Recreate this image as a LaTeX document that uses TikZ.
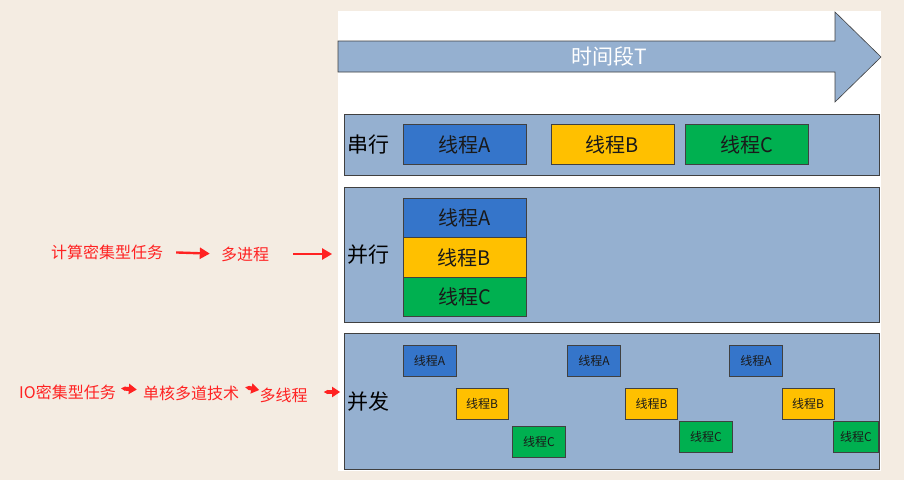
\documentclass[tikz,border=0pt]{standalone}
\usepackage{fontspec}
\setmainfont{Noto Sans CJK SC}
\usetikzlibrary{arrows.meta}
\definecolor{bgc}{HTML}{F4ECE2}
\definecolor{panelfill}{HTML}{95B0D0}
\definecolor{panelborder}{HTML}{404040}
\definecolor{blueA}{HTML}{3575CA}
\definecolor{yellowB}{HTML}{FFC000}
\definecolor{greenC}{HTML}{00B050}
\definecolor{txt}{HTML}{1A1A1A}
\definecolor{redc}{HTML}{FF2222}
\begin{document}
\begin{tikzpicture}[x=1pt,y=-1pt,
  panel/.style={draw=panelborder,fill=panelfill,line width=0.8pt,inner sep=0,minimum width=535pt},
  blk/.style={draw=panelborder,line width=0.8pt,inner sep=0,text=txt,font=\fontsize{20}{20}\selectfont,minimum width=123pt},
  sblk/.style={draw=panelborder,line width=0.8pt,inner sep=0,text=txt,font=\fontsize{12}{12}\selectfont,minimum width=53pt,minimum height=31pt},
  plabel/.style={anchor=west,inner sep=0,text=black,font=\fontsize{21}{21}\selectfont},
  rtext/.style={inner sep=0,text=redc,font=\fontsize{16}{16}\selectfont},
  rarrA/.style={draw=redc,line width=2.4pt,-{Triangle[length=10pt,width=11pt]}},
  rarrB/.style={draw=redc,line width=4pt,{Triangle[length=4pt,width=4pt]}-{Triangle[length=8pt,width=10pt]}},
]
\useasboundingbox (0,0) rectangle (904,480);
\fill[bgc] (0,0) rectangle (904,480);
\fill[white] (338,11) rectangle (881,471);

% time arrow
\draw[draw=panelborder,fill=panelfill,line width=0.6pt]
  (338,41) -- (835,41) -- (835,12) -- (881,57) -- (835,102) -- (835,72) -- (338,72) -- cycle;
\node[inner sep=0,text=white,font=\fontsize{21}{21}\selectfont] (title) at (609,56) {时间段T};

% panels
\node[panel,minimum height=60.5pt] (p1) at (612,144.75) {};
\node[panel,minimum height=135pt] (p2) at (612,255) {};
\node[panel,minimum height=136pt] (p3) at (612,401.5) {};

\node[plabel] (l1) at (347,144.5) {串行};
\node[plabel] (l2) at (347,255) {并行};
\node[plabel] (l3) at (347,402) {并发};

% serial
\node[blk,fill=blueA,minimum height=40pt] (sA) at (465,144.5) {线程A};
\node[blk,fill=yellowB,minimum height=40pt] (sB) at (612.5,144.5) {线程B};
\node[blk,fill=greenC,minimum height=40pt] (sC) at (746.5,144.5) {线程C};

% parallel
\node[blk,fill=blueA,minimum height=40pt] (pA) at (464.5,218) {线程A};
\node[blk,fill=yellowB,minimum height=39.5pt] (pB) at (464.5,257.5) {线程B};
\node[blk,fill=greenC,minimum height=39.5pt] (pC) at (464.5,296.75) {线程C};

% concurrent
\node[sblk,fill=blueA] (cA1) at (429.5,361) {线程A};
\node[sblk,fill=blueA] (cA2) at (594,361) {线程A};
\node[sblk,fill=blueA] (cA3) at (756,361) {线程A};
\node[sblk,fill=yellowB,minimum width=52pt] (cB1) at (482,404) {线程B};
\node[sblk,fill=yellowB,minimum width=52pt] (cB2) at (651.5,404) {线程B};
\node[sblk,fill=yellowB,minimum width=52pt] (cB3) at (808,404) {线程B};
\node[sblk,fill=greenC] (cC1) at (539,441.5) {线程C};
\node[sblk,fill=greenC] (cC2) at (706,436.5) {线程C};
\node[sblk,fill=greenC,minimum width=45pt] (cC3) at (856,436.5) {线程C};

% left annotations
\node[rtext] (t1) at (107,252) {计算密集型任务};
\node[rtext] (t2) at (245,254) {多进程};
\draw[rarrA,shorten <=13pt,shorten >=11pt] (t1.east) -- (t2.west);
\draw[rarrA,shorten <=24pt,shorten >=12pt] (t2.east) -- (t2.east -| p2.west);

\node[rtext] (t3) at (67.5,392) {IO密集型任务};
\node[rtext] (t4) at (191,393) {单核多道技术};
\node[rtext] (t5) at (283.5,395) {多线程};
\draw[rarrB,shorten <=5pt,shorten >=6pt] ([yshift=4pt]t3.east) -- ([yshift=3pt]t4.west);
\draw[rarrB,shorten <=6pt,shorten >=0pt] ([yshift=7pt]t4.east) -- ([yshift=5pt]t5.west);
\draw[rarrB,shorten <=16pt,shorten >=4pt] ([yshift=3pt]t5.east) -- ([yshift=3pt]t5.east -| p3.west);
\end{tikzpicture}
\end{document}
